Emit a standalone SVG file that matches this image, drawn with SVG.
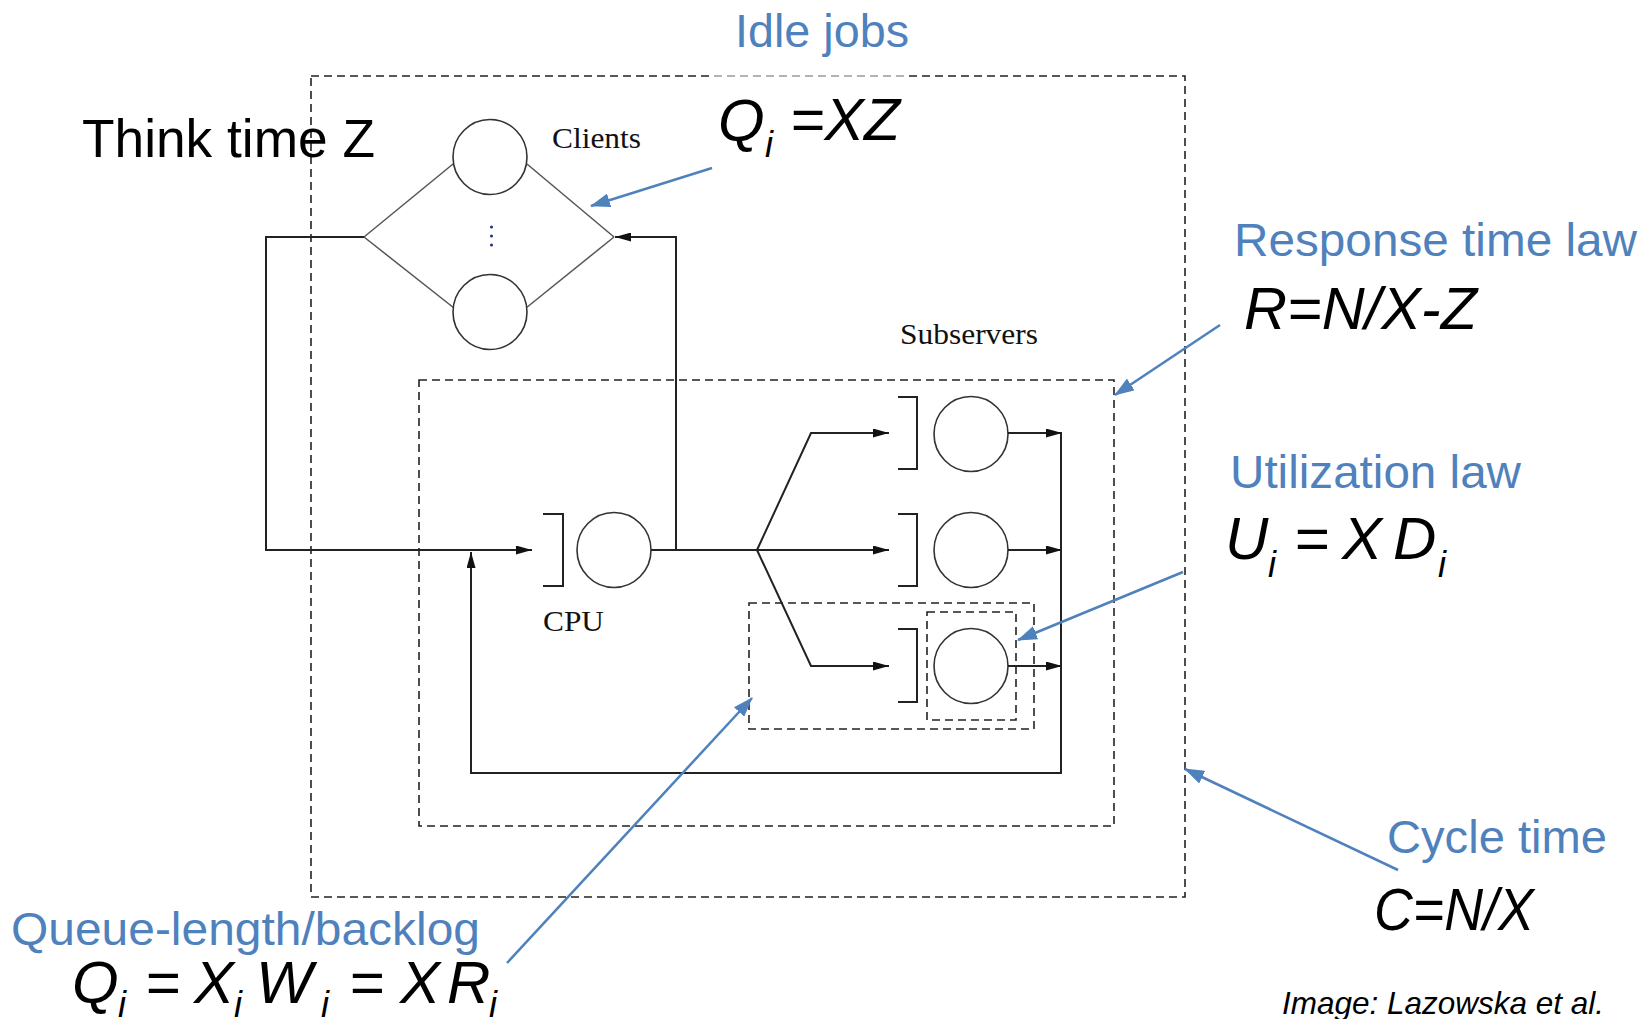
<svg xmlns="http://www.w3.org/2000/svg" width="1642" height="1019" viewBox="0 0 1642 1019">
  <style>
    .bg { fill: #ffffff; }
    .box { fill: none; stroke: #222; stroke-width: 1.6; stroke-dasharray: 8 5; }
    .srv { fill: #fff; stroke: #333; stroke-width: 1.6; }
    .queue { fill: none; stroke: #222; stroke-width: 2; }
    .wire { fill: none; stroke: #222; stroke-width: 2; }
    .fan { fill: none; stroke: #555; stroke-width: 1.5; }
    .note { fill: none; stroke: #4f81bd; stroke-width: 2.5; }
    .lbl { font-family: "Liberation Serif", "Times New Roman", serif; font-size: 30px; fill: #111; }
    .head { font-family: "Liberation Sans", Arial, sans-serif; font-size: 47px; fill: #4f81bd; }
    .eq { font-family: "Liberation Sans", Arial, sans-serif; font-style: italic; font-size: 60px; fill: #000; }
    .sub { font-family: "Liberation Sans", Arial, sans-serif; font-style: italic; font-size: 36px; fill: #000; }
    .plain { font-family: "Liberation Sans", Arial, sans-serif; font-size: 54px; fill: #000; }
    .credit { font-family: "Liberation Sans", Arial, sans-serif; font-style: italic; font-size: 32px; fill: #000; }
  </style>
  <defs>
    <marker id="arr" markerUnits="userSpaceOnUse" markerWidth="16" markerHeight="9" refX="16" refY="4.5" orient="auto">
      <path d="M0,0 L16,4.5 L0,9 z" fill="#111"/>
    </marker>
    <marker id="barr" markerUnits="userSpaceOnUse" markerWidth="20" markerHeight="14" refX="19" refY="7" orient="auto">
      <path d="M0,0 L20,7 L0,14 z" fill="#4f81bd"/>
    </marker>
  </defs>

  <rect class="bg" x="0" y="0" width="1642" height="1019"/>

  <!-- nested dashed boundaries -->
  <g id="system-boundary">
    <rect class="box" x="311" y="76" width="874" height="821"/>
    <!-- faded stretch of the top edge behind the Qi label -->
    <rect x="713" y="72" width="192" height="8" fill="#fff" opacity="0.55"/>
  </g>
  <g id="subservers-boundary">
    <rect class="box" x="419" y="380" width="695" height="446"/>
    <text class="lbl" x="900" y="344" textLength="138" lengthAdjust="spacingAndGlyphs">Subservers</text>
  </g>
  <g id="queue-boundary">
    <rect class="box" x="749" y="603" width="285" height="126"/>
  </g>
  <g id="server-boundary">
    <rect class="box" x="927" y="612" width="89" height="108"/>
  </g>

  <!-- terminal clients -->
  <g id="clients">
    <line class="fan" x1="364" y1="237" x2="453" y2="164"/>
    <line class="fan" x1="527" y1="164" x2="614" y2="237"/>
    <line class="fan" x1="364" y1="237" x2="454" y2="308"/>
    <line class="fan" x1="526" y1="308" x2="614" y2="237"/>
    <ellipse class="srv" cx="490" cy="157" rx="37" ry="37.5"/>
    <ellipse class="srv" cx="490" cy="312" rx="37" ry="37.5"/>
    <circle cx="491.5" cy="227" r="1.6" fill="#2a3a80"/>
    <circle cx="491.5" cy="236" r="1.6" fill="#2a3a80"/>
    <circle cx="491.5" cy="245" r="1.6" fill="#2a3a80"/>
    <text class="lbl" x="552" y="148" textLength="89" lengthAdjust="spacingAndGlyphs">Clients</text>
  </g>

  <!-- CPU -->
  <g id="cpu">
    <path class="queue" d="M543,514 H563 V586 H543"/>
    <ellipse class="srv" cx="614" cy="550" rx="37" ry="37.5"/>
    <text class="lbl" x="543" y="631" textLength="61" lengthAdjust="spacingAndGlyphs">CPU</text>
  </g>

  <!-- subservers -->
  <g id="subserver-1">
    <path class="queue" d="M898,397 H917 V469 H898"/>
    <ellipse class="srv" cx="971" cy="434" rx="37" ry="37.5"/>
  </g>
  <g id="subserver-2">
    <path class="queue" d="M898,514 H917 V586 H898"/>
    <ellipse class="srv" cx="971" cy="550" rx="37" ry="37.5"/>
  </g>
  <g id="subserver-3">
    <path class="queue" d="M898,629 H917 V702 H898"/>
    <ellipse class="srv" cx="971" cy="666" rx="37" ry="37.5"/>
  </g>

  <!-- job flow -->
  <g id="connectors">
    <path class="wire" d="M364,237 H266 V550 H532" marker-end="url(#arr)"/>
    <path class="wire" d="M651,550 H889" marker-end="url(#arr)"/>
    <path class="wire" d="M676,550 V237 H615" marker-end="url(#arr)"/>
    <path class="wire" d="M757,550 L811,433 H889" marker-end="url(#arr)"/>
    <path class="wire" d="M757,550 L811,666 H889" marker-end="url(#arr)"/>
    <path class="wire" d="M1008,433 H1062" marker-end="url(#arr)"/>
    <path class="wire" d="M1008,550 H1062" marker-end="url(#arr)"/>
    <path class="wire" d="M1008,666 H1062" marker-end="url(#arr)"/>
    <path class="wire" d="M1061,433 V773 H471 V552" marker-end="url(#arr)"/>
  </g>

  <!-- operational-law annotations -->
  <g id="note-think-time">
    <text class="plain" x="82" y="157" textLength="293" lengthAdjust="spacingAndGlyphs">Think time Z</text>
  </g>

  <g id="note-idle-jobs">
    <text class="head" x="735" y="47" textLength="174" lengthAdjust="spacingAndGlyphs">Idle jobs</text>
    <text class="eq" x="718" y="141">Q</text>
    <text class="sub" x="765" y="157">i</text>
    <text class="eq" x="790" y="140" textLength="110" lengthAdjust="spacingAndGlyphs">=XZ</text>
    <line class="note" x1="712" y1="168" x2="591" y2="206" marker-end="url(#barr)"/>
  </g>

  <g id="note-response-time">
    <text class="head" x="1234" y="256" textLength="403" lengthAdjust="spacingAndGlyphs">Response time law</text>
    <text class="eq" x="1244" y="329" textLength="233" lengthAdjust="spacingAndGlyphs">R=N/X-Z</text>
    <line class="note" x1="1220" y1="325" x2="1115" y2="395" marker-end="url(#barr)"/>
  </g>

  <g id="note-utilization">
    <text class="head" x="1230" y="488" textLength="291" lengthAdjust="spacingAndGlyphs">Utilization law</text>
    <text class="eq" x="1225" y="559">U</text>
    <text class="sub" x="1268" y="577">i</text>
    <text class="eq" x="1294" y="559">=</text>
    <text class="eq" x="1342" y="559">X</text>
    <text class="eq" x="1393" y="559">D</text>
    <text class="sub" x="1438" y="577">i</text>
    <line class="note" x1="1183" y1="572" x2="1018" y2="640" marker-end="url(#barr)"/>
  </g>

  <g id="note-cycle-time">
    <text class="head" x="1387" y="853" textLength="220" lengthAdjust="spacingAndGlyphs">Cycle time</text>
    <text class="eq" x="1374" y="930" textLength="160" lengthAdjust="spacingAndGlyphs">C=N/X</text>
    <line class="note" x1="1398" y1="870" x2="1185" y2="769" marker-end="url(#barr)"/>
  </g>

  <g id="note-queue-length">
    <text class="head" x="11" y="945" textLength="469" lengthAdjust="spacingAndGlyphs">Queue-length/backlog</text>
    <text class="eq" x="72" y="1003" font-size="62">Q</text>
    <text class="sub" x="118" y="1017" font-size="36">i</text>
    <text class="eq" x="145" y="1003" font-size="62">=</text>
    <text class="eq" x="194" y="1003" font-size="62">X</text>
    <text class="sub" x="234" y="1017" font-size="36">i</text>
    <text class="eq" x="256" y="1003" font-size="62">W</text>
    <text class="sub" x="321" y="1017" font-size="36">i</text>
    <text class="eq" x="349" y="1003" font-size="62">=</text>
    <text class="eq" x="400" y="1003" font-size="62">X</text>
    <text class="eq" x="447" y="1003" font-size="62">R</text>
    <text class="sub" x="489" y="1017" font-size="36">i</text>
    <line class="note" x1="507" y1="963" x2="752" y2="698" marker-end="url(#barr)"/>
  </g>

  <g id="credit">
    <text class="credit" x="1282" y="1014" textLength="322" lengthAdjust="spacingAndGlyphs">Image: Lazowska et al.</text>
  </g>
</svg>
